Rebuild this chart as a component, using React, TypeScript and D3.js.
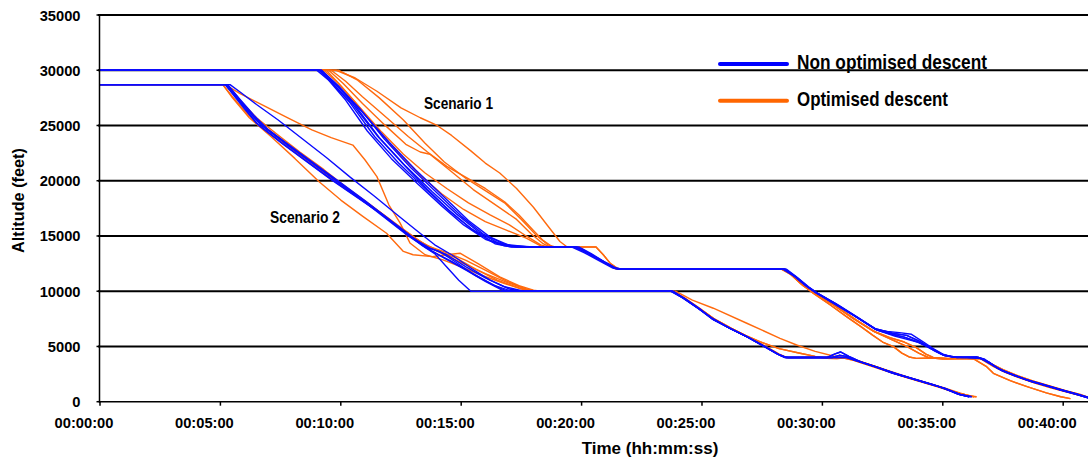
import React from "react";
import * as d3 from "d3";

type Pt = [number, number];

// ---- axis data ----
const TIME_TICKS = [0, 5, 10, 15, 20, 25, 30, 35, 40];
const TIME_LABELS = ["00:00:00", "00:05:00", "00:10:00", "00:15:00", "00:20:00", "00:25:00", "00:30:00", "00:35:00", "00:40:00"];
const ALT_TICKS = [0, 5000, 10000, 15000, 20000, 25000, 30000, 35000];

// ---- Scenario 1 (cruise 30000 ft) : time (min), altitude (ft) ----
const S1_BLUE_A: Pt[] = [[0,30000],[9.1,30000],[9.6,29000],[10.4,27000],[11.4,24000],[12.4,21600],[13.5,19300],[14.5,17300],[15.4,15700],[16.2,14600],[17.0,14050],[17.6,14000]];
const S1_BLUE_B: Pt[] = [[0,30000],[9.2,30000],[9.7,28900],[10.6,26800],[11.6,23900],[12.7,21300],[13.8,19000],[14.8,17000],[15.7,15400],[16.5,14400],[17.3,14000]];
const S1_BLUE_C: Pt[] = [[0,30000],[9.15,30000],[9.8,28700],[10.8,26500],[11.8,23800],[12.9,21200],[14.0,18900],[15.0,16800],[15.9,15200],[16.8,14250],[17.8,14000]];
const S1_BLUE_D: Pt[] = [[0,30000],[9.0,30000],[9.5,29100],[10.2,27300],[11.1,24500],[12.1,22000],[13.2,19700],[14.2,17700],[15.1,16000],[16.0,14700],[16.8,14100],[17.4,14000]];
const S1_BLUE_E: Pt[] = [[0,30000],[9.2,30000],[9.9,28600],[10.9,26200],[12.0,23500],[13.1,21000],[14.2,18700],[15.3,16400],[16.2,14900],[17.0,14150],[18.0,14000]];
const S1_BLUE_F: Pt[] = [[0,30000],[9.1,30000],[9.6,28900],[10.5,26900],[11.5,24100],[12.6,21500],[13.6,19200],[14.6,17100],[15.5,15500],[16.4,14300],[17.1,14000]];

const S1_BLUE_TAIL_1: Pt[] = [[19.8,14000],[20.3,13450],[20.9,12700],[21.4,12100],[21.7,12000],[28.45,12000],[28.9,11300],[29.4,10400],[29.8,9800],[30.6,8800],[31.4,7700],[32.25,6500],[32.8,6150],[33.4,5850],[33.9,5450],[34.35,4980],[34.7,4550],[35.0,4230],[35.5,4050],[36.5,4000],[37.0,3400],[37.4,2870],[38.0,2350],[38.5,1950],[39.2,1500],[39.9,1060],[40.5,700],[41.1,300]];
const S1_BLUE_TAIL_2: Pt[] = [[19.7,14000],[20.2,13500],[20.8,12800],[21.4,12050],[21.6,12000],[28.4,12000],[28.85,11350],[29.35,10450],[29.75,9850],[30.5,8850],[31.3,7800],[32.2,6600],[32.9,6200],[33.5,6000],[34.0,5500],[34.4,5000],[34.8,4500],[35.1,4150],[35.6,4000],[36.4,4050],[36.9,3600],[37.3,3000],[37.9,2450],[38.4,2050],[39.1,1600],[39.8,1150],[40.4,800],[41.1,350]];
const S1_BLUE_TAIL_3: Pt[] = [[19.6,14000],[20.1,13500],[20.7,12800],[21.3,12100],[21.6,12000],[28.5,12000],[28.95,11250],[29.45,10350],[29.85,9750],[30.7,8700],[31.5,7600],[32.3,6450],[33.0,5950],[33.6,5600],[34.1,5300],[34.5,4850],[34.9,4350],[35.3,4100],[35.8,4000],[36.6,3950],[37.1,3300],[37.5,2800],[38.1,2300],[38.6,1900],[39.3,1450],[40.0,1000],[40.6,650],[41.1,280]];
const S1_BLUE_TAIL_4: Pt[] = [[19.9,14000],[20.4,13400],[21.0,12600],[21.5,12000],[28.35,12000],[28.8,11400],[29.3,10500],[29.7,9900],[30.5,8900],[31.35,7750],[32.2,6550],[32.7,6350],[33.2,6250],[33.7,6100],[34.2,5400],[34.6,4800],[35.0,4300],[35.4,4050],[36.0,4000],[36.7,3900],[37.2,3150],[37.6,2700],[38.2,2200],[38.7,1800],[39.4,1400],[40.1,950],[40.7,600],[41.1,320]];

const S1_ORANGE_A: Pt[] = [[0,30000],[9.8,30000],[10.6,29300],[11.5,28100],[12.5,26600],[13.3,25700],[14.0,25000],[14.6,24100],[15.4,22700],[16.0,21600],[16.6,20700],[17.3,19300],[18.0,17600],[18.6,15900],[19.1,14500],[19.4,14000]];
const S1_ORANGE_B: Pt[] = [[0,30000],[9.6,30000],[10.2,29000],[10.9,27600],[11.8,25900],[12.8,24000],[13.6,22600],[14.4,21300],[15.2,20300],[16.0,19300],[16.8,18100],[17.4,16900],[18.0,15500],[18.4,14600],[18.8,14000]];
const S1_ORANGE_C: Pt[] = [[0,30000],[9.5,30000],[10.1,28800],[10.9,27000],[11.8,25100],[12.7,23300],[13.3,22600],[13.7,22400],[14.5,21000],[15.5,19200],[16.5,17700],[17.3,16500],[17.9,15200],[18.4,14300],[18.7,14000]];
const S1_ORANGE_D: Pt[] = [[0,30000],[9.4,30000],[10.0,28600],[10.8,26600],[11.7,24400],[12.6,22400],[13.5,20700],[14.4,19300],[15.3,18000],[16.2,16900],[17.0,16000],[17.7,15000],[18.3,14200],[18.6,14000]];
const S1_ORANGE_E: Pt[] = [[0,30000],[9.3,30000],[9.9,28800],[10.6,27100],[11.5,24700],[12.4,22500],[13.3,20500],[14.2,18800],[15.1,17400],[16.0,16300],[16.9,15500],[17.7,14800],[18.3,14100],[18.5,14000]];
const S1_ORANGE_F: Pt[] = [[0,30000],[9.9,30000],[10.7,29100],[11.6,27500],[12.6,25500],[13.5,23400],[14.3,21700],[15.2,20200],[16.0,19100],[16.8,18000],[17.5,16500],[18.1,15100],[18.6,14200],[18.9,14000]];

const S1_ORANGE_TAIL_1: Pt[] = [[19.8,14000],[20.3,13400],[20.9,12650],[21.4,12050],[21.7,12000],[28.3,12000],[28.6,11700],[29.1,10700],[29.6,9850],[30.3,8800],[31.0,7700],[31.6,6800],[32.1,6000],[32.5,5400],[32.95,4980],[33.3,4400],[33.6,4050],[33.9,3920],[34.5,3950],[35.5,3900],[36.3,3850],[36.8,3200],[37.1,2570],[37.8,1900],[38.5,1360],[39.3,800],[39.9,450],[40.3,280]];
const S1_ORANGE_TAIL_2: Pt[] = [[20.6,14000],[20.9,13300],[21.2,12500],[21.5,12050],[21.7,12000],[28.4,12000],[28.8,11400],[29.3,10400],[29.8,9700],[30.6,8600],[31.4,7400],[32.2,6300],[32.9,5600],[33.5,5000],[34.0,4400],[34.4,4000],[35.0,3850],[35.8,3900],[36.5,4000],[37.0,3450],[37.5,2900],[38.1,2350],[38.7,1900],[39.4,1450],[40.1,1000],[40.7,650],[41.1,350]];
const S1_ORANGE_TAIL_3: Pt[] = [[19.9,14000],[20.4,13300],[21.0,12500],[21.5,12000],[28.3,12000],[28.7,11500],[29.2,10500],[29.7,9800],[30.5,8700],[31.3,7500],[32.1,6400],[32.8,5800],[33.4,5400],[33.9,4900],[34.3,4300],[34.6,4000],[35.2,3900],[36.0,3950],[36.6,3850],[37.1,3200],[37.6,2650],[38.2,2150],[38.8,1700],[39.5,1250],[40.2,850],[40.8,500],[41.1,330]];

// ---- Scenario 2 (cruise 28700 ft) ----
const S2_BLUE_A: Pt[] = [[0,28700],[5.2,28700],[5.6,27700],[6.1,26300],[6.6,25000],[7.6,23300],[8.6,21700],[9.6,20100],[10.6,18600],[11.6,17100],[12.6,15400],[13.4,14100],[13.9,13400],[14.4,12200],[14.9,11000],[15.4,10000]];
const S2_BLUE_B: Pt[] = [[0,28700],[5.3,28700],[5.7,27600],[6.2,26200],[6.7,25000],[7.7,23400],[8.7,21800],[9.7,20200],[10.7,18600],[11.7,17000],[12.7,15300],[13.5,14000],[14.3,13000],[15.2,11900],[16.0,10900],[16.7,10100],[17.0,10000]];
const S2_BLUE_C: Pt[] = [[0,28700],[5.25,28700],[5.7,27500],[6.3,26000],[6.8,24900],[7.8,23200],[8.8,21600],[9.8,20000],[10.8,18400],[11.8,16700],[12.8,15000],[13.5,14000],[14.1,13600],[14.8,12600],[15.6,11400],[16.4,10500],[17.1,10000]];
const S2_BLUE_D: Pt[] = [[0,28700],[5.4,28700],[5.9,27900],[6.5,26900],[7.4,25500],[8.4,23800],[9.4,22100],[10.4,20300],[11.4,18600],[12.4,16800],[13.2,15400],[13.9,14200],[14.6,13300],[15.4,12100],[16.2,11000],[17.0,10200],[17.5,10000]];
const S2_BLUE_E: Pt[] = [[0,28700],[5.2,28700],[5.6,27600],[6.0,26500],[6.5,25200],[7.5,23500],[8.5,21900],[9.5,20300],[10.5,18800],[11.5,17300],[12.5,15700],[13.2,14500],[13.8,13600],[14.6,12700],[15.5,11600],[16.3,10600],[16.9,10000]];
const S2_BLUE_F: Pt[] = [[0,28700],[5.3,28700],[5.8,27400],[6.4,25900],[7.0,24600],[8.0,23000],[9.0,21400],[10.0,19800],[11.0,18200],[12.0,16500],[13.0,14800],[13.7,13900],[14.4,13300],[15.2,12200],[16.0,11200],[16.8,10400],[17.6,10000]];

const S2_BLUE_TAIL_1: Pt[] = [[23.8,10000],[24.3,9300],[24.9,8400],[25.5,7400],[26.2,6600],[26.9,5850],[27.6,5000],[28.2,4250],[28.5,4000],[30.2,4000],[30.5,4300],[30.75,4500],[31.1,4100],[31.6,3600],[32.3,3100],[33.0,2550],[33.7,2100],[34.4,1650],[35.1,1200],[35.7,650],[36.1,450]];
const S2_BLUE_TAIL_2: Pt[] = [[23.7,10000],[24.2,9400],[24.8,8500],[25.4,7600],[26.1,6700],[26.8,5950],[27.5,5100],[28.1,4350],[28.4,4050],[28.6,4000],[31.0,4000],[31.5,3650],[32.2,3150],[32.9,2600],[33.6,2150],[34.3,1700],[35.0,1250],[35.6,700],[36.2,450]];
const S2_BLUE_TAIL_3: Pt[] = [[23.75,10000],[24.25,9350],[24.85,8450],[25.45,7450],[26.15,6650],[26.85,5900],[27.55,5050],[28.15,4300],[28.45,4000],[30.4,4000],[30.7,4200],[31.0,4100],[31.3,3800],[31.8,3450],[32.5,2950],[33.2,2450],[33.9,2000],[34.6,1550],[35.3,1000],[35.8,600],[36.1,450]];

const S2_ORANGE_A: Pt[] = [[0,28700],[5.1,28700],[5.5,27500],[6.2,25700],[7.1,24000],[8.1,22000],[9.1,19900],[10.0,18250],[10.9,16800],[11.9,15250],[12.6,13600],[13.0,13300],[13.8,13130],[14.4,13300],[14.95,13440],[15.7,12500],[16.6,11300],[17.4,10500],[18.0,10100],[18.3,10000]];
const S2_ORANGE_B: Pt[] = [[0,28700],[5.2,28700],[5.8,27900],[6.8,26800],[7.8,25700],[8.8,24600],[9.6,23900],[10.5,23230],[11.0,21900],[11.5,20370],[12.0,17800],[12.46,16180],[12.87,14370],[13.5,13300],[14.24,12830],[15.0,12200],[15.9,11400],[16.8,10700],[17.5,10200],[17.9,10000]];
const S2_ORANGE_C: Pt[] = [[0,28700],[5.1,28700],[5.5,27600],[6.1,26100],[6.6,25000],[7.6,23400],[8.6,21800],[9.6,20200],[10.6,18700],[11.6,17200],[12.6,15600],[13.5,14200],[14.3,13300],[15.1,12500],[16.0,11600],[16.9,10800],[17.7,10200],[18.1,10000]];
const S2_ORANGE_D: Pt[] = [[0,28700],[5.2,28700],[5.7,27500],[6.3,26000],[6.9,24800],[7.9,23100],[8.9,21500],[9.9,19900],[10.9,18300],[11.9,16700],[12.8,15200],[13.6,14100],[14.4,13500],[15.2,12800],[16.0,11900],[16.9,10900],[17.8,10100],[18.2,10000]];
const S2_ORANGE_E: Pt[] = [[0,28700],[5.3,28700],[5.8,27300],[6.5,25700],[7.3,24300],[8.3,22600],[9.3,21000],[10.3,19300],[11.3,17700],[12.3,16000],[13.2,14600],[14.0,13700],[14.8,13000],[15.6,12000],[16.5,11000],[17.4,10300],[18.0,10000]];

const S2_ORANGE_TAIL_1: Pt[] = [[23.9,10000],[24.6,9200],[25.47,8460],[26.86,7100],[28.24,5740],[28.93,5130],[29.7,4550],[30.45,4140],[30.9,3950],[31.2,3900],[31.5,3700],[32.2,3200],[32.9,2700],[33.6,2200],[34.3,1750],[35.0,1300],[35.7,800],[36.2,450]];
const S2_ORANGE_TAIL_2: Pt[] = [[23.8,10000],[24.3,9300],[24.9,8400],[25.5,7500],[26.2,6650],[26.9,5900],[27.4,5430],[28.2,4800],[29.07,4380],[29.7,4100],[30.17,3930],[30.6,3900],[31.0,3980],[31.5,3700],[32.2,3200],[32.9,2650],[33.6,2150],[34.3,1700],[35.0,1250],[35.7,750],[36.3,450]];
const S2_ORANGE_TAIL_3: Pt[] = [[23.8,10000],[24.3,9350],[24.9,8450],[25.5,7500],[26.2,6650],[26.9,5900],[27.6,5050],[28.2,4300],[28.5,4000],[30.8,4000],[31.3,3750],[32.0,3250],[32.7,2750],[33.4,2250],[34.1,1800],[34.8,1350],[35.5,850],[36.1,500],[36.4,450]];

const BLUE = "#0a0aff";
const ORANGE = "#ff6a0e";

const ORANGE_LINES: Pt[][] = [
  [...S1_ORANGE_A, ...S1_ORANGE_TAIL_2],
  [...S1_ORANGE_B, ...S1_ORANGE_TAIL_1],
  [...S1_ORANGE_C, ...S1_ORANGE_TAIL_3],
  [...S1_ORANGE_D, ...S1_ORANGE_TAIL_2],
  [...S1_ORANGE_E, ...S1_ORANGE_TAIL_3],
  [...S1_ORANGE_F, ...S1_ORANGE_TAIL_1],
  [...S2_ORANGE_A, ...S2_ORANGE_TAIL_3],
  [...S2_ORANGE_B, ...S2_ORANGE_TAIL_1],
  [...S2_ORANGE_C, ...S2_ORANGE_TAIL_2],
  [...S2_ORANGE_D, ...S2_ORANGE_TAIL_3],
  [...S2_ORANGE_E, ...S2_ORANGE_TAIL_2],
];
const BLUE_LINES: Pt[][] = [
  [...S1_BLUE_A, ...S1_BLUE_TAIL_1],
  [...S1_BLUE_B, ...S1_BLUE_TAIL_2],
  [...S1_BLUE_C, ...S1_BLUE_TAIL_3],
  [...S1_BLUE_D, ...S1_BLUE_TAIL_4],
  [...S1_BLUE_E, ...S1_BLUE_TAIL_1],
  [...S1_BLUE_F, ...S1_BLUE_TAIL_2],
  [...S2_BLUE_A, ...S2_BLUE_TAIL_1],
  [...S2_BLUE_B, ...S2_BLUE_TAIL_2],
  [...S2_BLUE_C, ...S2_BLUE_TAIL_3],
  [...S2_BLUE_D, ...S2_BLUE_TAIL_1],
  [...S2_BLUE_E, ...S2_BLUE_TAIL_2],
  [...S2_BLUE_F, ...S2_BLUE_TAIL_3],
];

const FONT = "'Liberation Sans', Arial, Helvetica, sans-serif";

export default function App() {
  const W = 1088, H = 461;
  const x = d3.scaleLinear().domain([0, 41.03]).range([100, 1088]);
  const y = d3.scaleLinear().domain([0, 35000]).range([401.7, 15]);
  const line = d3.line<Pt>().x(d => x(d[0])).y(d => y(d[1]));

  return (
    <svg width={W} height={H} style={{ position: "absolute", left: 0, top: 0, background: "#fff" }} fontFamily={FONT}>
      <rect x={0} y={0} width={W} height={H} fill="#fff" />
      {/* gridlines */}
      {ALT_TICKS.filter(v => v > 0).map(v => (
        <line key={v} x1={98} x2={W} y1={y(v)} y2={y(v)} stroke="#000" strokeWidth={2} />
      ))}
      {/* series */}
      <g fill="none" strokeWidth={1.4} strokeLinejoin="round">
        {ORANGE_LINES.map((pts, i) => (
          <path key={"o" + i} d={line(pts) || ""} stroke={ORANGE} />
        ))}
        {BLUE_LINES.map((pts, i) => (
          <path key={"b" + i} d={line(pts) || ""} stroke={BLUE} />
        ))}
      </g>
      {/* axes */}
      <line x1={99.5} x2={99.5} y1={y(35000) - 1} y2={y(0) + 1} stroke="#000" strokeWidth={1.5} />
      <line x1={99} x2={W} y1={y(0)} y2={y(0)} stroke="#000" strokeWidth={1.5} />
      {ALT_TICKS.map(v => (
        <g key={"yt" + v}>
          <line x1={96.5} x2={99.5} y1={y(v)} y2={y(v)} stroke="#000" strokeWidth={1.5} />
          <text x={80.5} y={y(v) + 5.5} textAnchor="end" fontSize={14.7} fontWeight="bold" fill="#000">{v}</text>
        </g>
      ))}
      {TIME_TICKS.map((t, i) => (
        <g key={"xt" + t}>
          <line x1={x(t)} x2={x(t)} y1={y(0)} y2={y(0) + 4} stroke="#000" strokeWidth={1.5} />
          <text x={x(t) - 16} y={428} textAnchor="middle" fontSize={14.7} fontWeight="bold" fill="#000">{TIME_LABELS[i]}</text>
        </g>
      ))}
      {/* axis titles */}
      <text x={650} y={454} textAnchor="middle" fontSize={17} fontWeight="bold" fill="#000">Time (hh:mm:ss)</text>
      <text transform="translate(23.7,200.5) rotate(-90)" textAnchor="middle" fontSize={16.3} fontWeight="bold" fill="#000">Altitude (feet)</text>
      {/* scenario labels */}
      <text x={424} y={109} fontSize={17} fontWeight="bold" fill="#000" textLength={69} lengthAdjust="spacingAndGlyphs">Scenario 1</text>
      <text x={270} y={223} fontSize={17} fontWeight="bold" fill="#000" textLength={70} lengthAdjust="spacingAndGlyphs">Scenario 2</text>
      {/* legend */}
      <line x1={720} x2={787} y1={64} y2={64} stroke="#0000ff" strokeWidth={4} strokeLinecap="round" />
      <text x={797} y={69.3} fontSize={21} fontWeight="bold" fill="#000" textLength={190} lengthAdjust="spacingAndGlyphs">Non optimised descent</text>
      <line x1={720} x2={787} y1={100.7} y2={100.7} stroke="#ff6600" strokeWidth={4} strokeLinecap="round" />
      <text x={797} y={105.7} fontSize={21} fontWeight="bold" fill="#000" textLength={151} lengthAdjust="spacingAndGlyphs">Optimised descent</text>
    </svg>
  );
}
